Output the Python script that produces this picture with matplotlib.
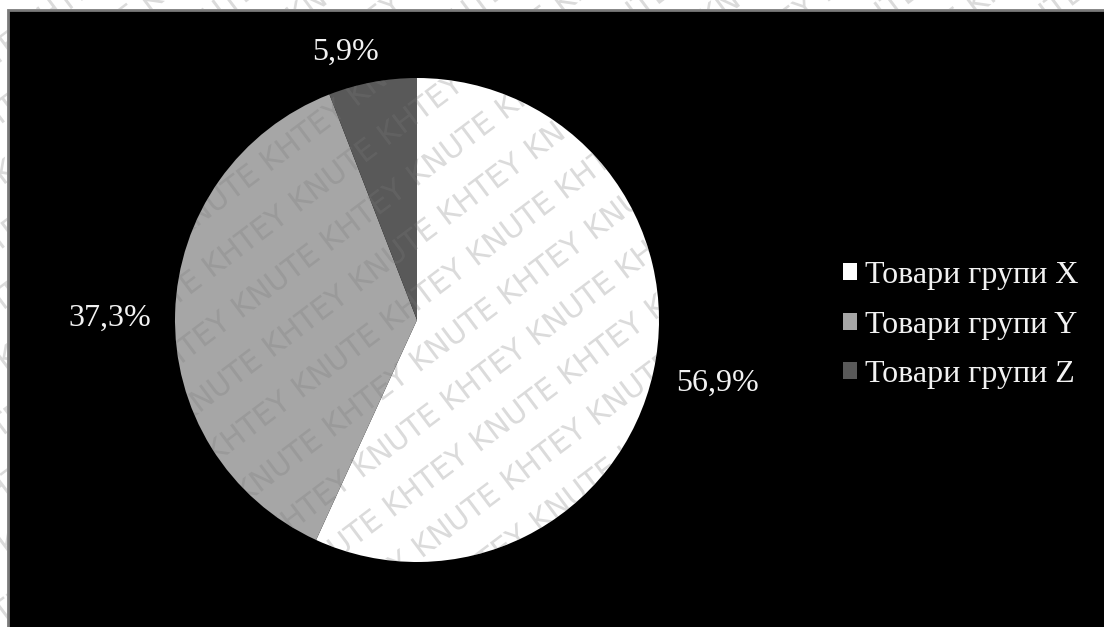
import numpy as np
import matplotlib
matplotlib.use("Agg")
import matplotlib.pyplot as plt
from matplotlib.patches import Circle, Polygon, Rectangle, Patch, PathPatch
from matplotlib.path import Path
from matplotlib.textpath import TextPath
from matplotlib.font_manager import FontProperties
from matplotlib.transforms import Affine2D

# Shares of goods groups
categories = ["Товари групи X", "Товари групи Y", "Товари групи Z"]
shares = [56.9, 37.3, 5.9]
colors = ["#ffffff", "#a6a6a6", "#595959"]

W, H = 1104, 627
fig = plt.figure(figsize=(W / 100, H / 100), dpi=100, facecolor="white")

# Black chart area with a thin grey frame
bg = fig.add_axes([0, 0, 1, 1])
bg.set_xlim(0, W)
bg.set_ylim(H, 0)
bg.axis("off")
bg.add_patch(Rectangle((8, 10), W, H, facecolor="black", edgecolor="#7a7a7a", linewidth=2))

# Pie
cx, cy, r = 417, 320, 242
pie_ax = fig.add_axes([(cx - r) / W, (H - cy - r) / H, 2 * r / W, 2 * r / H])
wedges, _, autotexts = pie_ax.pie(
    shares, colors=colors, startangle=90, counterclock=False, radius=1.0,
    autopct=lambda p: f"{p:.1f}%".replace(".", ","), pctdistance=1.2,
    textprops=dict(color="#f2f2f2", fontsize=23, family="Liberation Serif"),
    wedgeprops=dict(linewidth=0))
pie_ax.set_xlim(-1, 1)
pie_ax.set_ylim(-1, 1)
pie_ax.set_aspect("equal")
pie_ax.axis("off")

# Label placement (pixel positions of label centres)
label_px = [(717, 383), (110, 318), (346, 52)]
for t, (px, py), val in zip(autotexts, label_px, shares):
    t.set_text(f"{val:.1f}%".replace(".", ","))
    t.set_position(((px - cx) / r, (cy - py) / r))
    t.set_ha("center")
    t.set_va("center")

# Legend
handles = [Patch(facecolor=c, edgecolor="none") for c in colors]
leg = fig.legend(handles, categories, loc="center left",
                 bbox_to_anchor=(843 / W, (H - 325) / H), frameon=False,
                 prop=dict(family="Liberation Serif", size=23),
                 labelcolor="#f2f2f2", handlelength=0.44, handleheight=0.44,
                 handletextpad=0.25, labelspacing=0.65, borderpad=0,
                 borderaxespad=0)

# Watermark overlay, visible only on the pie and the white margin
ov = fig.add_axes([0, 0, 1, 1], zorder=10)
ov.set_xlim(0, W)
ov.set_ylim(0, H)
ov.axis("off")
ov.patch.set_alpha(0)
clip_circle = Circle((0, 0), 1.0, transform=pie_ax.transData)
clip_margin = Polygon([(0, H), (W, H), (W, H - 9), (7, H - 9), (7, 0), (0, 0)],
                      closed=True, transform=ov.transData)

wm_size = 30
wm_font = FontProperties(family="DejaVu Sans")
unit = TextPath((0, 0), "KNUTE KHTEY", size=wm_size, prop=wm_font)
pitch = unit.get_extents().width + 0.45 * wm_size
ang_deg = 37
ang = np.deg2rad(ang_deg)
d = np.array([np.cos(ang), np.sin(ang)])      # along text direction
n = np.array([np.sin(ang), -np.cos(ang)])     # perpendicular, downwards
step = 50
origin = np.array([0.0, H])
pieces = []
for k in range(-20, 40):
    for i in range(-20, 20):
        p = origin + n * step * k + d * (pitch * i - 0.5 * pitch * (k % 2))
        if -400 < p[0] < W + 50 and -100 < p[1] < H + 400:
            tr = Affine2D().rotate_deg(ang_deg).translate(p[0], p[1])
            pieces.append(tr.transform_path(unit))
wm_path = Path.make_compound_path(*pieces)
for clip in (clip_circle, clip_margin):
    pp = PathPatch(wm_path, facecolor="#7a7a7a", edgecolor="none",
                   alpha=0.27, transform=ov.transData)
    ov.add_patch(pp)
    pp.set_clip_path(clip)

fig.savefig("out.png", dpi=100, facecolor="white")
